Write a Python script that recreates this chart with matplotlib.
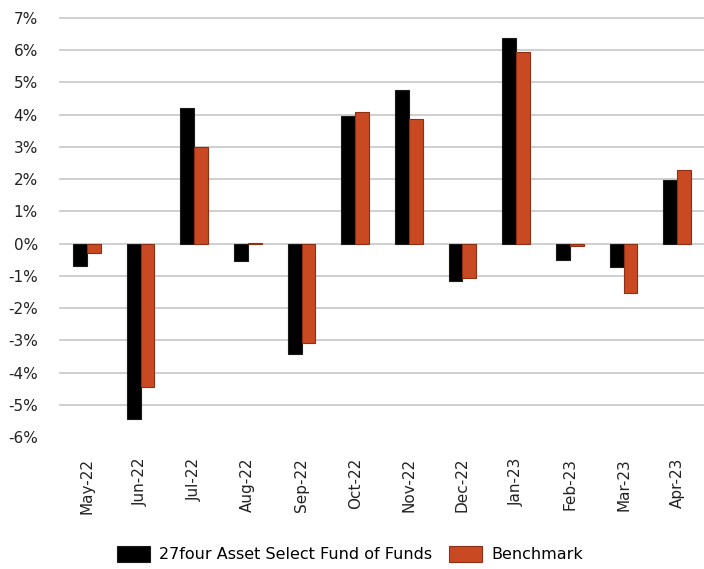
import numpy as np
import matplotlib.pyplot as plt

plt.rcParams['font.family'] = ['DejaVu Sans']

# Months on the x axis
months = ['May-22', 'Jun-22', 'Jul-22', 'Aug-22', 'Sep-22', 'Oct-22',
          'Nov-22', 'Dec-22', 'Jan-23', 'Feb-23', 'Mar-23', 'Apr-23']

# Monthly returns in percent
fund = [-0.68, -5.43, 4.20, -0.54, -3.41, 3.95, 4.77, -1.17, 6.39, -0.50, -0.72, 1.98]
benchmark = [-0.29, -4.45, 3.01, 0.03, -3.07, 4.09, 3.86, -1.08, 5.95, -0.08, -1.53, 2.27]

FUND_LABEL = '27four Asset Select Fund of Funds'
BENCH_LABEL = 'Benchmark'

#
# Plotting
#
fig = plt.figure(figsize=(7.04, 5.69), dpi=100)
ax = fig.add_axes([60 / 704, 1 - 437 / 569, 644 / 704, 419 / 569])

x = np.arange(len(months))
w = 0.26
ax.bar(x - w / 2, fund, w, color='#000000', edgecolor='#1a1a1a', linewidth=0.8,
       label=FUND_LABEL, zorder=3)
ax.bar(x + w / 2, benchmark, w, color='#C94A22', edgecolor='#8E2F15', linewidth=0.8,
       label=BENCH_LABEL, zorder=3)

ax.set_xlim(-0.5, len(months) - 0.5)
ax.set_ylim(-6, 7)
ax.set_yticks(range(-6, 8))
ax.set_yticklabels(['%d%%' % v for v in range(-6, 8)], fontsize=11, color='#222222')
ax.set_xticks(x)
ax.set_xticklabels(months, rotation=90, fontsize=11, color='#222222')
ax.tick_params(length=0, axis='both')
ax.tick_params(axis='y', pad=16)
ax.tick_params(axis='x', pad=15)

ax.grid(axis='y', color='#cccccc', linewidth=1.3, zorder=0)
for gl in ax.get_ygridlines():
    gl.set_clip_on(False)
# no gridline at the bottom (-6%)
ax.get_ygridlines()[0].set_visible(False)
for s in ax.spines.values():
    s.set_visible(False)

ax.legend(loc='center', bbox_to_anchor=(350 / 704, 1 - 554 / 569), bbox_transform=fig.transFigure,
          ncol=2, frameon=False, fontsize=11.5, handlelength=2.05, handleheight=1.2,
          columnspacing=1.1, handletextpad=0.55, borderpad=0.2)

fig.savefig('out.png', dpi=100)
